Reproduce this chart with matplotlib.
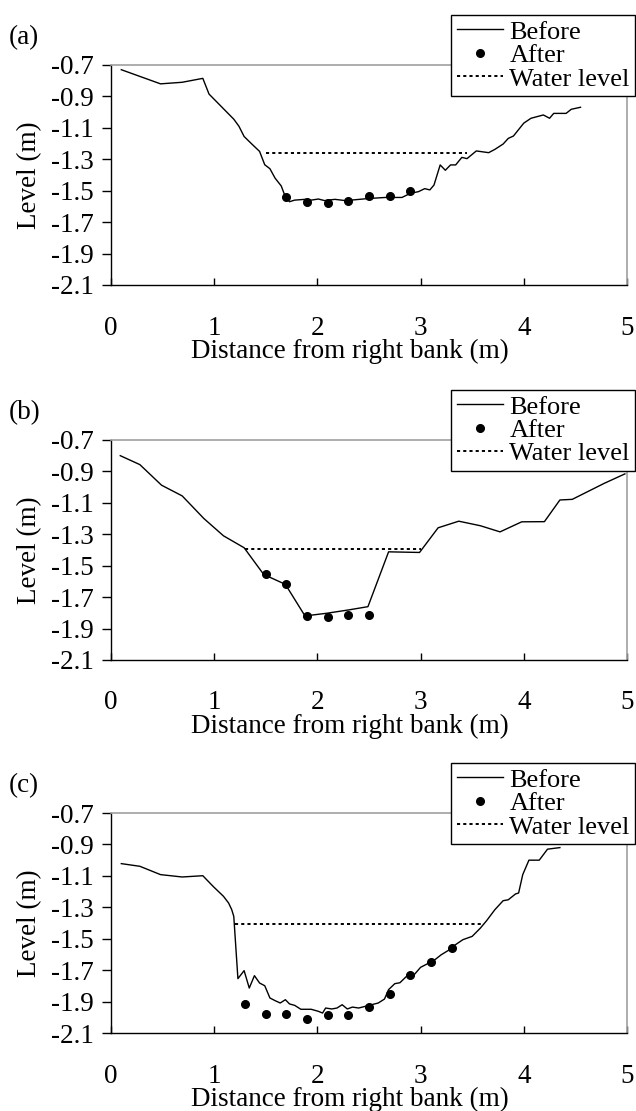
import matplotlib
matplotlib.use('Agg')
import matplotlib.pyplot as plt

plt.rcParams['font.family'] = ['Liberation Serif', 'DejaVu Serif']
plt.rcParams['axes.unicode_minus'] = False

# (a) cross-section
xa_before = [0.1, 0.48, 0.69, 0.89, 0.95, 1.07, 1.19, 1.24, 1.29, 1.36,
             1.44, 1.49, 1.54, 1.59, 1.65, 1.69, 1.73, 1.78, 1.88, 1.94,
             2.01, 2.07, 2.17, 2.27, 2.36, 2.49, 2.66, 2.82, 2.9, 2.98,
             3.04, 3.09, 3.13, 3.19, 3.24, 3.29, 3.34, 3.4, 3.45, 3.54,
             3.66, 3.72, 3.8, 3.85, 3.9, 4.0, 4.07, 4.19, 4.25, 4.29,
             4.41, 4.46, 4.55]
ya_before = [-0.73, -0.82, -0.81, -0.785, -0.885, -0.965, -1.045, -1.09, -1.155, -1.2,
             -1.25, -1.335, -1.36, -1.42, -1.47, -1.54, -1.57, -1.56, -1.555, -1.56,
             -1.553, -1.563, -1.555, -1.563, -1.558, -1.55, -1.543, -1.543, -1.517, -1.506,
             -1.487, -1.495, -1.464, -1.336, -1.37, -1.336, -1.336, -1.288, -1.296, -1.247,
             -1.258, -1.237, -1.203, -1.167, -1.152, -1.07, -1.039, -1.018, -1.039, -1.008,
             -1.008, -0.982, -0.969]
xa_after = [1.7, 1.9, 2.1, 2.3, 2.5, 2.7, 2.9]
ya_after = [-1.54, -1.57, -1.58, -1.565, -1.535, -1.535, -1.50]
xa_water = [1.5, 3.45]
ya_water = [-1.26, -1.26]

# (b) cross-section
xb_before = [0.09, 0.28, 0.49, 0.69, 0.9, 1.09, 1.29, 1.48, 1.69, 1.88,
             2.09, 2.3, 2.49, 2.69, 2.99, 3.17, 3.37, 3.58, 3.77, 3.98,
             4.2, 4.35, 4.47, 4.78, 4.98]
yb_before = [-0.80, -0.857, -0.988, -1.056, -1.2, -1.31, -1.386, -1.556, -1.619, -1.82,
             -1.803, -1.782, -1.761, -1.412, -1.416, -1.259, -1.217, -1.246, -1.285, -1.221,
             -1.22, -1.082, -1.078, -0.976, -0.916]
xb_after = [1.5, 1.7, 1.9, 2.1, 2.3, 2.5]
yb_after = [-1.556, -1.619, -1.82, -1.824, -1.816, -1.816]
xb_water = [1.3, 3.0]
yb_water = [-1.395, -1.395]

# (c) cross-section
xc_before = [0.1, 0.28, 0.48, 0.69, 0.89, 0.99, 1.09, 1.14, 1.17, 1.19,
             1.23, 1.29, 1.34, 1.39, 1.44, 1.49, 1.54, 1.59, 1.64, 1.69,
             1.73, 1.78, 1.84, 1.94, 2.01, 2.05, 2.08, 2.14, 2.19, 2.24,
             2.29, 2.34, 2.4, 2.49, 2.59, 2.65, 2.69, 2.75, 2.8, 2.88,
             2.93, 3.0, 3.08, 3.14, 3.2, 3.27, 3.3, 3.41, 3.5, 3.58,
             3.64, 3.72, 3.8, 3.85, 3.92, 3.95, 3.99, 4.05, 4.15, 4.23, 4.35]
yc_before = [-1.022, -1.039, -1.092, -1.107, -1.099, -1.167, -1.23, -1.273, -1.315, -1.358,
             -1.754, -1.703, -1.814, -1.735, -1.782, -1.799, -1.877, -1.894, -1.909, -1.888,
             -1.915, -1.924, -1.949, -1.949, -1.962, -1.973, -1.941, -1.947, -1.941, -1.92,
             -1.947, -1.935, -1.941, -1.926, -1.909, -1.884, -1.824, -1.786, -1.78, -1.729,
             -1.735, -1.682, -1.655, -1.633, -1.602, -1.574, -1.555, -1.506, -1.485, -1.432,
             -1.385, -1.315, -1.258, -1.252, -1.215, -1.209, -1.092, -1.0, -1.0, -0.93, -0.92]
xc_after = [1.3, 1.5, 1.7, 1.9, 2.1, 2.3, 2.5, 2.7, 2.9, 3.1, 3.3]
yc_after = [-1.915, -1.977, -1.977, -2.013, -1.983, -1.983, -1.937, -1.852, -1.733, -1.65, -1.559]
xc_water = [1.2, 3.6]
yc_water = [-1.405, -1.405]

panel_names = ['(a)', '(b)', '(c)']
x_ticks = [0, 1, 2, 3, 4, 5]
y_ticks = [-0.7, -0.9, -1.1, -1.3, -1.5, -1.7, -1.9, -2.1]

panels = [(xa_before, ya_before, xa_after, ya_after, xa_water, ya_water),
          (xb_before, yb_before, xb_after, yb_after, xb_water, yb_water),
          (xc_before, yc_before, xc_after, yc_after, xc_water, yc_water)]
bottoms = [0.7435, 0.406, 0.0702]

fig = plt.figure(figsize=(6.36, 11.11), dpi=100)
fs = 19.5
for name, bot, (xb, yb, xa, ya, xw, yw) in zip(panel_names, bottoms, panels):
    ax = fig.add_axes([0.1745, bot, 0.8113, 0.198])
    ax.plot(xb, yb, color='k', lw=1.0, label='Before')
    ax.plot(xa, ya, 'o', color='k', ms=5.5, label='After')
    ax.plot(xw, yw, color='k', lw=1.4, ls=(0, (1.6, 1.6)), label='Water level')

    ax.set_xlim(0, 5)
    ax.set_ylim(-2.1, -0.7)
    ax.set_xticks(x_ticks)
    ax.set_yticks(y_ticks)
    ax.set_yticklabels(['%.1f' % v for v in y_ticks])
    ax.tick_params(axis='x', direction='in', length=5, width=1, pad=22, labelsize=fs)
    ax.tick_params(axis='y', direction='out', length=6.5, width=1, pad=6, labelsize=fs)
    for s in ['top', 'right']:
        ax.spines[s].set_color('#a0a0a0')
        ax.spines[s].set_linewidth(1.2)
    for s in ['left', 'bottom']:
        ax.spines[s].set_color('k')
        ax.spines[s].set_linewidth(1.0)

    ax.set_xlabel('Distance from right bank (m)', fontsize=fs)
    ax.xaxis.set_label_coords(0.463, -0.245)
    ax.set_ylabel('Level (m)', fontsize=fs)
    ax.yaxis.set_label_coords(-0.134, 0.5)
    ax.text(-0.198, 1.125, name, transform=ax.transAxes, fontsize=fs,
            ha='left', va='center')

    leg = ax.legend(loc='upper right', bbox_to_anchor=(1.0155, 1.228),
                    borderaxespad=0, fontsize=19, numpoints=1,
                    handlelength=1.75, handletextpad=0.25, borderpad=0.2,
                    labelspacing=0.0, fancybox=False, framealpha=1,
                    edgecolor='k')
    leg.get_frame().set_linewidth(1.0)

fig.savefig('out.png', dpi=100)
